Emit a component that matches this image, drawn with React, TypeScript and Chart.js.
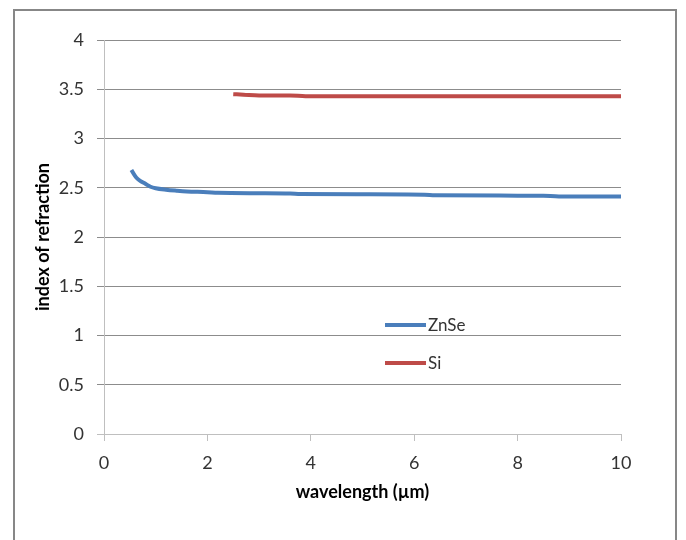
import React, { useEffect, useRef } from "react";
import { Chart, registerables } from "chart.js";

Chart.register(...registerables);

const znseWavelength = [0.53, 0.6, 0.65, 0.7, 0.8, 0.9, 1.0, 1.2, 1.4, 1.6, 2.0, 2.2, 3.0, 3.6, 3.8, 5.0, 6.2, 6.4, 8.0, 8.5, 8.8, 10.0];
const znseIndex = [2.68, 2.62, 2.59, 2.57, 2.54, 2.51, 2.495, 2.48, 2.47, 2.462, 2.455, 2.448, 2.445, 2.442, 2.436, 2.433, 2.43, 2.424, 2.42, 2.418, 2.412, 2.41];
const siWavelength = [2.5, 2.7, 3.0, 3.6, 3.9, 5.0, 10.0];
const siIndex = [3.45, 3.445, 3.437, 3.437, 3.43, 3.43, 3.43];
const seriesNames = ["ZnSe", "Si"];
const seriesColors = ["#4a7ebb", "#be4b48"];

const FONT = "Lato, 'Liberation Sans', sans-serif";

const legendPlugin = {
  id: "inlineLegend",
  afterDatasetsDraw(chart: any) {
    const { ctx, chartArea } = chart;
    const x0 = chartArea.left + 281;
    const ys = [325, 363];
    ctx.save();
    seriesNames.forEach((name, i) => {
      ctx.strokeStyle = seriesColors[i];
      ctx.lineWidth = 4;
      ctx.beginPath();
      ctx.moveTo(x0, ys[i]);
      ctx.lineTo(x0 + 41, ys[i]);
      ctx.stroke();
      ctx.fillStyle = "#333333";
      ctx.font = `17px ${FONT}`;
      ctx.textBaseline = "middle";
      ctx.textAlign = "left";
      ctx.fillText(name, x0 + 43, ys[i] + 1);
    });
    ctx.restore();
  },
};

export default function App() {
  const ref = useRef<HTMLCanvasElement>(null);
  useEffect(() => {
    if (!ref.current) return;
    const chart = new Chart(ref.current, {
      type: "line",
      data: {
        datasets: [
          {
            label: seriesNames[0],
            data: znseWavelength.map((x, i) => ({ x, y: znseIndex[i] })),
            borderColor: seriesColors[0],
            borderWidth: 4,
            pointRadius: 0,
            cubicInterpolationMode: "monotone",
          },
          {
            label: seriesNames[1],
            data: siWavelength.map((x, i) => ({ x, y: siIndex[i] })),
            borderColor: seriesColors[1],
            borderWidth: 4,
            pointRadius: 0,
            cubicInterpolationMode: "monotone",
          },
        ],
      },
      options: {
        animation: false,
        responsive: false,
        layout: { padding: { top: 40, right: 65, left: 0, bottom: 0 } },
        plugins: { legend: { display: false }, tooltip: { enabled: false } },
        scales: {
          x: {
            type: "linear",
            min: 0,
            max: 10,
            afterFit(scale: any) {
              scale.height = 106;
            },
            ticks: { stepSize: 2, padding: 11, color: "#333333", font: { size: 18, family: FONT } },
            grid: { drawOnChartArea: false, drawTicks: true, tickLength: 7, color: "#bfbfbf" },
            border: { color: "#bfbfbf", width: 1 },
            title: {
              display: true,
              text: "wavelength (µm)",
              color: "#000000",
              font: { size: 18, weight: "bold", family: FONT },
              padding: { top: 0, bottom: 37 },
            },
          },
          y: {
            min: 0,
            max: 4,
            afterFit(scale: any) {
              scale.width = 104;
            },
            ticks: {
              stepSize: 0.5,
              padding: 13,
              color: "#333333",
              font: { size: 18, family: FONT },
              callback: (v: any) => String(Number(v)),
            },
            grid: {
              tickLength: 7,
              color: (c: any) => (c.tick && c.tick.value === 0 ? "#bfbfbf" : "#8c8c8c"),
            },
            border: { color: "#bfbfbf", width: 1 },
            title: {
              display: true,
              text: "index of refraction",
              color: "#000000",
              font: { size: 18, weight: "bold", family: FONT },
              padding: { top: 32, bottom: 0 },
            },
          },
        },
      },
      plugins: [legendPlugin],
    } as any);
    return () => chart.destroy();
  }, []);
  return (
    <div style={{ position: "fixed", left: 0, top: 0, width: 686, height: 540, background: "#fff", overflow: "hidden" }}>
      <div
        style={{
          position: "absolute",
          left: 13,
          top: 9,
          width: 664,
          height: 600,
          border: "2px solid #878787",
          boxSizing: "border-box",
        }}
      />
      <canvas ref={ref} width={686} height={540} style={{ position: "absolute", left: 0, top: 0 }} />
    </div>
  );
}
